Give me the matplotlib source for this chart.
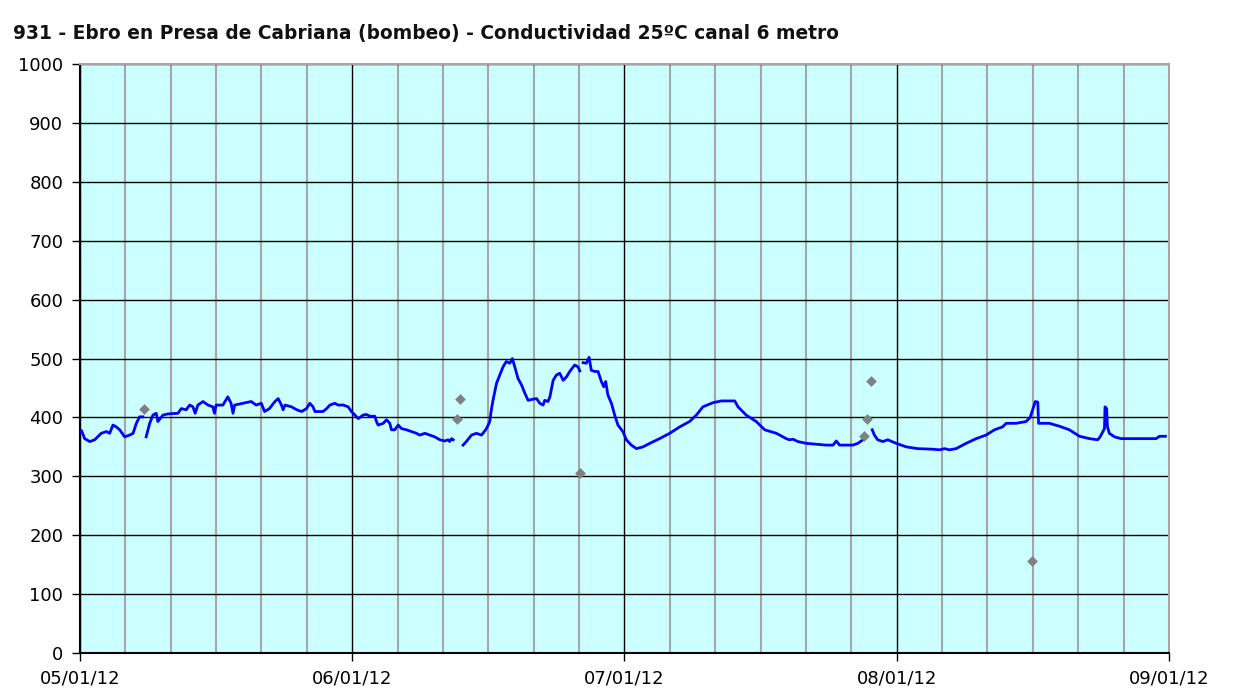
import matplotlib.pyplot as plt
import numpy as np

# x is measured in months since 05/01/12 (each month drawn with equal width)
nan = np.nan

t_month = [
    0.000, 0.005, 0.017, 0.036, 0.054, 0.078, 0.097, 0.109, 0.121, 0.133,
    0.146, 0.164, 0.182, 0.195, 0.207, 0.219, 0.231, 0.237,
    0.243, 0.256, 0.268, 0.280, 0.286, 0.305, 0.323, 0.360, 0.372, 0.390,
    0.403, 0.415, 0.423, 0.433, 0.452, 0.470, 0.488, 0.494, 0.500, 0.525,
    0.543, 0.555, 0.562, 0.568, 0.598, 0.629, 0.647, 0.666, 0.678, 0.696,
    0.716, 0.728, 0.740, 0.746, 0.753, 0.777, 0.796, 0.814, 0.832, 0.844,
    0.856, 0.863, 0.881, 0.893, 0.906, 0.918, 0.936, 0.948, 0.967, 0.985,
    0.997, 1.010, 1.022, 1.040, 1.052, 1.065, 1.083, 1.089, 1.095, 1.114,
    1.126, 1.138, 1.144, 1.156, 1.169, 1.181, 1.199, 1.218, 1.236, 1.248,
    1.267, 1.285, 1.303, 1.322, 1.340, 1.352, 1.358, 1.365, 1.371, 1.390,
    1.407, 1.419, 1.438, 1.456, 1.475, 1.493, 1.505, 1.511, 1.517, 1.530,
    1.542, 1.554, 1.566, 1.579, 1.588, 1.597, 1.609, 1.622, 1.634, 1.646,
    1.664, 1.677, 1.689, 1.701, 1.707, 1.719, 1.726, 1.738, 1.750, 1.762,
    1.775, 1.787, 1.799, 1.817, 1.829, 1.836, 1.842,
    1.848, 1.860, 1.870, 1.878, 1.891, 1.903, 1.915, 1.924, 1.931, 1.939,
    1.952, 1.964, 1.976, 1.994, 2.007, 2.025, 2.044, 2.068, 2.093, 2.129,
    2.166, 2.203, 2.239, 2.264, 2.288, 2.325, 2.356, 2.405, 2.417, 2.447,
    2.484, 2.515, 2.558, 2.594, 2.606, 2.619, 2.637, 2.668, 2.741, 2.766,
    2.778, 2.790, 2.839, 2.857, 2.876, 2.893,
    2.910, 2.918, 2.930, 2.949, 2.967, 2.998, 3.035, 3.077, 3.133, 3.157,
    3.176, 3.194, 3.218, 3.255, 3.292, 3.328, 3.359, 3.389, 3.402, 3.438,
    3.475, 3.490, 3.509, 3.518, 3.521, 3.561, 3.598, 3.634, 3.671, 3.708,
    3.738, 3.747, 3.763, 3.765, 3.771, 3.774, 3.781, 3.800, 3.824, 3.953,
    3.965, 3.987,
]

conductividad = [
    376, 378, 364, 359, 362, 373, 376, 373, 387, 384,
    379, 367, 370, 373, 390, 401, 401, nan,
    367, 390, 404, 407, 393, 404, 406, 407, 415, 413,
    421, 418, 407, 421, 427, 421, 418, 407, 421, 421,
    435, 424, 407, 421, 424, 427, 421, 424, 410, 415,
    427, 432, 421, 413, 421, 418, 413, 410, 415, 424,
    418, 410, 410, 410, 415, 421, 424, 421, 421, 418,
    410, 404, 398, 404, 405, 402, 402, 393, 387, 390,
    396, 390, 379, 379, 387, 381, 379, 376, 373, 370,
    373, 370, 367, 362, 360, 362, 359, 364, 362, nan,
    353, 359, 370, 373, 370, 381, 393, 413, 429, 458,
    472, 486, 495, 492, 500, 486, 466, 455, 441, 429,
    431, 432, 424, 421, 429, 427, 435, 463, 472, 475,
    463, 469, 478, 489, 486, 479, nan,
    493, 492, 502, 480, 478, 478, 461, 452, 461, 438,
    424, 404, 387, 376, 362, 353, 347, 350, 356, 364,
    373, 384, 393, 404, 418, 425, 428, 428, 418, 404,
    393, 379, 373, 364, 362, 363, 359, 356, 353, 353,
    360, 353, 353, 356, 362, nan,
    379, 370, 362, 359, 362, 356, 350, 347, 346, 345,
    347, 345, 347, 356, 364, 370, 379, 384, 390, 390,
    393, 400, 427, 426, 390, 390, 385, 379, 368, 364,
    362, 367, 381, 418, 415, 384, 373, 367, 364, 364,
    368, 368,
]

# isolated manual samples (grey diamonds)
muestras_t = [0.235, 1.383, 1.395, 1.836, 2.878, 2.892, 2.904, 3.495]
muestras_v = [415, 397, 432, 305, 369, 397, 461, 156]

x_ticks = [0, 1, 2, 3, 4]
x_labels = ['05/01/12', '06/01/12', '07/01/12', '08/01/12', '09/01/12']
y_ticks = np.arange(0, 1001, 100)

fig = plt.figure(figsize=(12.44, 6.90), dpi=100)
ax = fig.add_axes([0.0643, 0.0536, 0.8754, 0.8536])
ax.set_facecolor('#CCFFFF')

ax.plot(t_month, conductividad, color='#0000FF', linewidth=2.0, zorder=3)
ax.scatter(muestras_t, muestras_v, marker='D', s=30, color='#808080',
           linewidths=0, zorder=4)

ax.set_xlim(0, 4)
ax.set_ylim(0, 1000)
ax.set_xticks(x_ticks)
ax.set_xticklabels(x_labels)
minor = [m + k / 6 for m in range(4) for k in range(1, 6)]
ax.set_xticks(minor, minor=True)
ax.set_yticks(y_ticks)

ax.grid(which='minor', axis='x', color='#A6A6A6', linewidth=1.5)
ax.grid(which='major', axis='x', color='black', linewidth=1.0)
ax.grid(which='major', axis='y', color='black', linewidth=1.0)

ax.tick_params(which='minor', length=0)
ax.tick_params(which='major', direction='out', length=6, width=1,
               labelsize=13, pad=6, colors='black')

for side in ('top', 'right'):
    ax.spines[side].set_color('#A6A6A6')
    ax.spines[side].set_linewidth(1.5)
for side in ('left', 'bottom'):
    ax.spines[side].set_color('black')
    ax.spines[side].set_linewidth(1.5)

fig.text(0.0105, 0.952,
         '931 - Ebro en Presa de Cabriana (bombeo) - Conductividad 25ºC canal 6 metro',
         fontsize=13.4, fontweight='bold', ha='left', va='center', color='#111111')

fig.savefig('out.png', dpi=100, facecolor='white')
